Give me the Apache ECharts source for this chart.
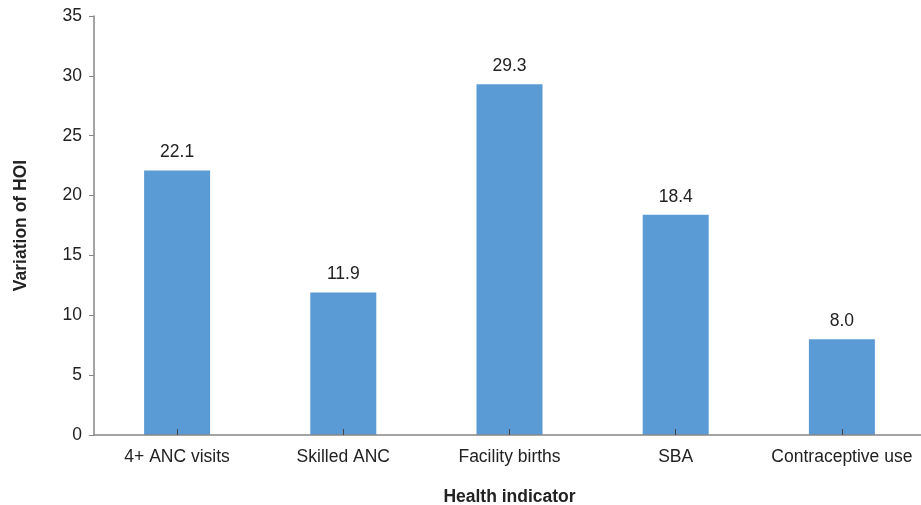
<!DOCTYPE html>
<html><head><meta charset="utf-8">
<script src="https://cdn.jsdelivr.net/npm/echarts@6/dist/echarts.min.js"></script>
<style>html,body{margin:0;padding:0;background:#fff}#c{width:921px;height:505px}</style>
</head><body><div id="c"></div>
<script>
const categories = ['4+ ANC visits','Skilled ANC','Facility births','SBA','Contraceptive use'];
const values = [22.1, 11.9, 29.3, 18.4, 8.0];
const yTicks = {min:0, max:35, interval:5};

const FS = 17.5;
const chart = echarts.init(document.getElementById('c'));
chart.setOption({
  animation:false,
  grid:{left:94, top:16, bottom:70, width:831, containLabel:false, outerBoundsMode:'none'},
  xAxis:{
    type:'category', data:categories, z:5,
    name:'Health indicator', nameLocation:'middle', nameGap:53,
    nameTextStyle:{fontFamily:'Liberation Sans', fontSize:FS, fontWeight:'bold', color:'#222'},
    axisLine:{lineStyle:{color:'#868686', width:1.5}},
    axisTick:{show:true, inside:true, alignWithLabel:true, interval:0, length:6, lineStyle:{color:'#444'}},
    axisLabel:{fontFamily:'Liberation Sans', fontSize:FS, color:'#222', margin:13, interval:0}
  },
  yAxis:{
    type:'value', min:yTicks.min, max:yTicks.max, interval:yTicks.interval,
    name:'Variation of HOI', nameLocation:'middle', nameGap:64, nameRotate:90,
    nameTextStyle:{fontFamily:'Liberation Sans', fontSize:FS, fontWeight:'bold', color:'#222'},
    axisLine:{show:true, lineStyle:{color:'#868686', width:1.5}},
    axisTick:{show:true, length:5, lineStyle:{color:'#868686'}},
    splitLine:{show:false},
    axisLabel:{fontFamily:'Liberation Sans', fontSize:FS, color:'#222', margin:12}
  },
  series:[{
    type:'bar', data:values, barWidth:66,
    itemStyle:{color:'#5B9BD5'},
    label:{show:true, position:'top', distance:9, fontFamily:'Liberation Sans', fontSize:FS, color:'#222',
      formatter:p=>p.value.toFixed(1)}
  }]
});
</script></body></html>
